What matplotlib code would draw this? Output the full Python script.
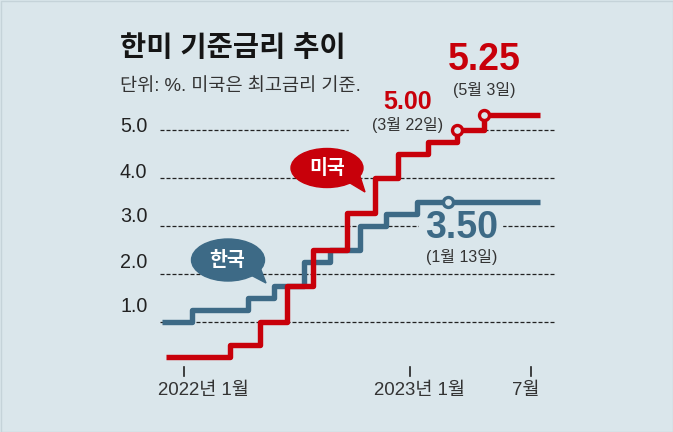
import matplotlib
matplotlib.use('Agg')
import matplotlib.pyplot as plt
import matplotlib.dates as mdates
import pandas as pd
from matplotlib.patches import Ellipse, Polygon, Rectangle

plt.rcParams['font.family'] = ['Liberation Sans', 'Noto Sans CJK KR', 'DejaVu Sans']

# dados
us_datas = ['2021-12-03', '2022-03-16', '2022-05-04', '2022-06-16', '2022-07-28', '2022-09-21',
            '2022-11-05', '2022-12-13', '2023-01-30', '2023-03-18', '2023-05-01', '2023-07-30']
us_taxas = [0.25, 0.5, 1.0, 1.75, 2.5, 3.27, 4.0, 4.5, 4.75, 5.0, 5.32, 5.32]

kr_datas = ['2021-11-26', '2022-01-14', '2022-04-14', '2022-05-26', '2022-07-13', '2022-08-25',
            '2022-10-12', '2022-11-24', '2023-01-13', '2023-07-30']
kr_taxas = [1.0, 1.25, 1.5, 1.75, 2.25, 2.5, 3.0, 3.25, 3.5, 3.5]

us_marcas_datas = ['2023-03-18', '2023-05-01']
us_marcas_taxas = [5.0, 5.32]
kr_marca_data = ['2023-03-03']
kr_marca_taxa = [3.5]

y_ticks = [1.0, 2.0, 3.0, 4.0, 5.0]
y_labels = ['1.0', '2.0', '3.0', '4.0', '5.0']
x_ticks = ['2022-01-01', '2023-01-01', '2023-07-15']
x_labels = ['2022년 1월', '2023년 1월', '7월']

FUNDO = '#dae6eb'
VERMELHO = '#c8000a'
AZUL = '#3d6a86'

W, H = 673, 432
fig = plt.figure(figsize=(W / 100, H / 100), dpi=100, facecolor=FUNDO)

# eixo principal ocupa a figura toda, escala calibrada pelos pixels
ax = fig.add_axes([0, 0, 1, 1])
d0 = mdates.date2num(pd.Timestamp('2022-01-01'))
px_dia = 226 / 365
ax.set_xlim(d0 - 184 / px_dia, d0 + (W - 184) / px_dia)
px_un = 47.9
ax.set_ylim(1.0 - (H - 321.5) / px_un, 1.0 + 321.5 / px_un)
ax.axis('off')

for y in y_ticks:
    ax.plot([pd.Timestamp('2021-11-23'), pd.Timestamp('2023-08-25')], [y, y], color='#222222', lw=0.9,
            dashes=(3.2, 1.6), zorder=1)

# cortes nas linhas tracejadas atrás dos rótulos
ax.add_patch(Rectangle((mdates.date2num(pd.Timestamp('2022-09-25')), 4.9), 170, 0.2, color=FUNDO, zorder=1.5))
ax.add_patch(Rectangle((mdates.date2num(pd.Timestamp('2023-01-16')), 2.9), 134, 0.2, color=FUNDO, zorder=1.5))

ax.step(pd.to_datetime(kr_datas), kr_taxas, where='post', color=AZUL, lw=3.9, zorder=2,
        solid_joinstyle='round', solid_capstyle='butt')
ax.step(pd.to_datetime(us_datas), us_taxas, where='post', color=VERMELHO, lw=3.9, zorder=3,
        solid_joinstyle='round', solid_capstyle='butt')

ax.plot(pd.to_datetime(us_marcas_datas), us_marcas_taxas, 'o', ms=7.2, mfc=FUNDO, mec=VERMELHO, mew=2.4, zorder=4)
ax.plot(pd.to_datetime(kr_marca_data), kr_marca_taxa, 'o', ms=7.2, mfc=FUNDO, mec=AZUL, mew=2.4, zorder=4)

for t in x_ticks:
    ax.plot([pd.Timestamp(t), pd.Timestamp(t)], [-0.14, 0.05], color='#222222', lw=1.2, zorder=1)

# camada em pixels para textos e balões
ov = fig.add_axes([0, 0, 1, 1], facecolor='none')
ov.set_xlim(0, W)
ov.set_ylim(H, 0)
ov.axis('off')

ov.add_patch(Rectangle((0.5, 0.5), W - 1, H - 1, fill=False, ec='#c5d3d9', lw=1))

ov.text(120, 49, '한미 기준금리 추이', fontsize=20.5, fontweight='bold', color='#151515', va='center', ha='left')
ov.text(120, 87, '단위: %. 미국은 최고금리 기준.', fontsize=13.4, color='#333333', va='center', ha='left')

for lab, py in zip(y_labels, [307, 262, 217, 172, 127]):
    ov.text(120, py, lab, fontsize=14.2, color='#222222', va='center', ha='left')

for lab, cx in zip(x_labels, [203, 420, 526]):
    ov.text(cx, 390, lab, fontsize=13.4, color='#333333', va='center', ha='center')

# balões
ov.add_patch(Ellipse((327, 168), 72, 39, color=VERMELHO, zorder=5))
ov.add_patch(Polygon([[345, 180], [365, 192], [358, 170]], color=VERMELHO, zorder=5))
ov.text(327, 168, '미국', fontsize=14, fontweight='bold', color='white', va='center', ha='center', zorder=6)

ov.add_patch(Ellipse((228, 260), 73, 42, color=AZUL, zorder=5))
ov.add_patch(Polygon([[245, 272], [266, 283], [258, 262]], color=AZUL, zorder=5))
ov.text(227, 260, '한국', fontsize=14, fontweight='bold', color='white', va='center', ha='center', zorder=6)

# rótulos dos valores
ov.text(484, 60, '5.25', fontsize=27, fontweight='bold', color=VERMELHO, va='center', ha='center')
ov.text(484, 90, '(5월 3일)', fontsize=11.5, color='#333333', va='center', ha='center')
ov.text(408, 102, '5.00', fontsize=18, fontweight='bold', color=VERMELHO, va='center', ha='center')
ov.text(408, 125, '(3월 22일)', fontsize=11.5, color='#333333', va='center', ha='center')
ov.text(462, 228, '3.50', fontsize=27, fontweight='bold', color=AZUL, va='center', ha='center')
ov.text(462, 257, '(1월 13일)', fontsize=11.5, color='#333333', va='center', ha='center')

plt.savefig('out.png', dpi=100, facecolor=FUNDO)
